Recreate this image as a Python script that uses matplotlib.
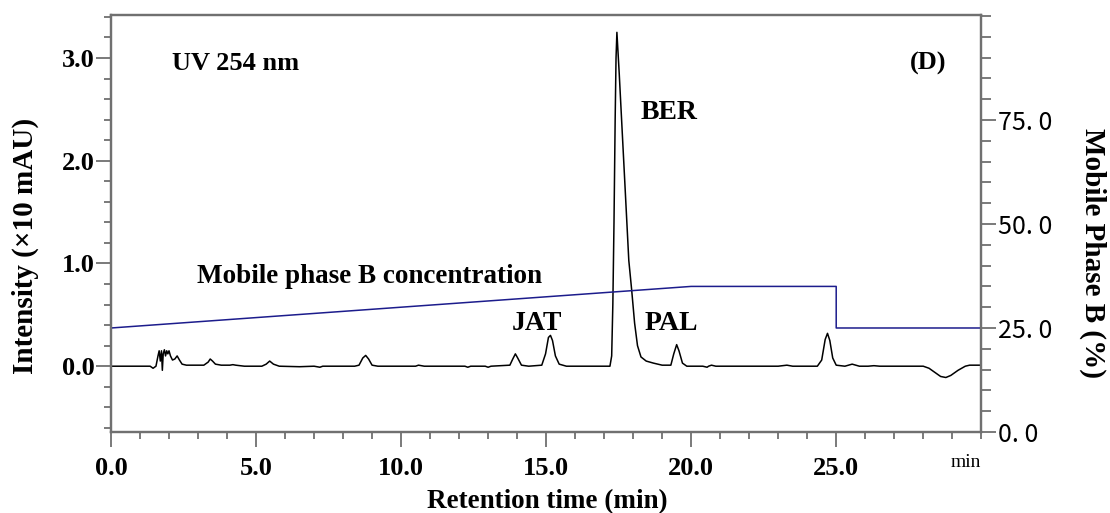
import matplotlib
matplotlib.use("Agg")
import matplotlib.pyplot as plt
from matplotlib.ticker import MultipleLocator

plt.rcParams['font.family'] = ['Liberation Serif', 'DejaVu Serif']

# chromatogram trace (min, x10 mAU)
tiempo = [0.0, 1.35, 1.45, 1.55, 1.62, 1.66, 1.70, 1.74, 1.77, 1.80, 1.84, 1.88,
          1.92, 1.96, 2.00, 2.05, 2.12, 2.20, 2.28, 2.36, 2.45, 2.6, 2.8, 3.2,
          3.35, 3.42, 3.50, 3.6, 3.8, 4.1, 4.2, 4.3, 4.6, 5.2, 5.35, 5.47, 5.6,
          5.8, 6.5, 7.0, 7.2, 7.3, 8.4, 8.55, 8.68, 8.78, 8.88, 9.0, 9.2, 10.5,
          10.6, 10.8, 12.2, 12.3, 12.4, 12.9, 13.0, 13.1, 13.75, 13.85, 13.94,
          14.02, 14.15, 14.4, 14.85, 14.98, 15.08, 15.15, 15.22, 15.32, 15.45,
          15.7, 17.2, 17.26, 17.30, 17.34, 17.38, 17.41, 17.44, 17.52, 17.62,
          17.72, 17.85, 17.95, 18.05, 18.15, 18.27, 18.45, 18.7, 19.0, 19.3,
          19.40, 19.50, 19.58, 19.70, 19.85, 20.4, 20.55, 20.6, 20.7, 20.85,
          23.0, 23.3, 23.5, 24.35, 24.5, 24.62, 24.70, 24.78, 24.88, 25.0, 25.3,
          25.55, 25.8, 26.1, 26.3, 26.5, 28.0, 28.2, 28.4, 28.6, 28.78, 28.95,
          29.2, 29.45, 29.6, 30.0]
intensidade = [0.0, 0.0, -0.02, 0.0, 0.10, 0.15, 0.05, 0.15, -0.04, 0.12, 0.16,
               0.10, 0.15, 0.12, 0.15, 0.10, 0.06, 0.07, 0.10, 0.06, 0.02, 0.01,
               0.01, 0.01, 0.04, 0.07, 0.05, 0.02, 0.01, 0.01, 0.015, 0.01, 0.0,
               0.0, 0.02, 0.05, 0.02, 0.0, -0.005, 0.0, -0.01, 0.0, 0.0, 0.01,
               0.08, 0.105, 0.07, 0.01, 0.0, 0.0, 0.01, 0.0, 0.0, -0.01, 0.0,
               0.0, -0.01, 0.0, 0.01, 0.07, 0.12, 0.08, 0.01, 0.0, 0.01, 0.12,
               0.28, 0.30, 0.25, 0.10, 0.02, 0.0, 0.0, 0.1, 0.6, 1.4, 2.4, 3.0,
               3.25, 2.85, 2.3, 1.75, 1.03, 0.74, 0.42, 0.2, 0.09, 0.05, 0.03,
               0.01, 0.01, 0.12, 0.21, 0.15, 0.03, 0.0, 0.0, -0.01, 0.0, 0.01,
               0.0, 0.0, 0.01, 0.0, 0.0, 0.06, 0.26, 0.32, 0.25, 0.08, 0.01, 0.0,
               0.02, 0.0, 0.0, 0.005, 0.0, 0.0, -0.02, -0.06, -0.10, -0.11, -0.09,
               -0.04, 0.0, 0.01, 0.01]

# mobile phase B gradient program (min, %)
grad_t = [0, 20, 25, 25, 30]
grad_b = [25, 35, 35, 25, 25]

rotulos_x = ['0.0', '5.0', '10.0', '15.0', '20.0', '25.0']
rotulos_y = ['0.0', '1.0', '2.0', '3.0']
rotulos_dir = ['0. 0', '25. 0', '50. 0', '75. 0']
ticks_dir = [0, 25, 50, 75]

cinza = '#707070'

fig = plt.figure(figsize=(11.1, 5.13), dpi=100)
ax = fig.add_axes([0.1, 0.158, 0.784, 0.813])
ax2 = ax.twinx()

ax.plot(tiempo, intensidade, color='black', lw=1.1)
ax2.plot(grad_t, grad_b, color='#1c1c8c', lw=1.1)

ax.set_xlim(0, 30)
ax.set_ylim(-0.64, 3.42)
ax2.set_ylim(0, 100.3)

ax.xaxis.set_minor_locator(MultipleLocator(1))
ax.yaxis.set_minor_locator(MultipleLocator(0.2))
ax2.yaxis.set_minor_locator(MultipleLocator(5))

ax.set_xticks([0, 5, 10, 15, 20, 25])
ax.set_xticklabels(rotulos_x, fontsize=19, fontweight='bold')
ax.set_yticks([0, 1, 2, 3])
ax.set_yticklabels(rotulos_y, fontsize=19, fontweight='bold')
ax2.set_yticks(ticks_dir)
ax2.set_yticklabels(rotulos_dir, family='Noto Sans CJK JP', fontsize=18)

for a in (ax, ax2):
    for s in a.spines.values():
        s.set_color(cinza)
        s.set_linewidth(1.6)
    a.tick_params(which='major', length=11, width=1.3, color=cinza)
    a.tick_params(which='minor', length=5, width=1.3, color=cinza)
ax2.tick_params(which='minor', length=7)
ax.tick_params(axis='x', pad=7)
ax.tick_params(axis='y', pad=1)
ax2.tick_params(axis='y', pad=1)

ax.set_xlabel('Retention time (min)', fontsize=19.5, fontweight='bold', va='center')
ax.xaxis.set_label_coords(0.501, -0.168)
ax.set_ylabel('Intensity (\u00d710 mAU)', fontsize=21, fontweight='bold', va='center')
ax.yaxis.set_label_coords(-0.099, 0.446)
ax2.set_ylabel('Mobile Phase B (%)', fontsize=21, fontweight='bold',
               rotation=270, va='center')
ax2.yaxis.set_label_coords(1.128, 0.43)

ax.text(30, -0.935, 'min', fontsize=14, ha='right', va='center')
ax.text(2.1, 2.95, 'UV 254 nm', fontsize=19, fontweight='bold', va='center')
ax.text(28.8, 2.95, '(D)', fontsize=19, fontweight='bold', va='center', ha='right')
ax.text(18.25, 2.47, 'BER', fontsize=20, fontweight='bold', va='center')
ax.text(2.96, 0.87, 'Mobile phase B concentration', fontsize=19.5,
        fontweight='bold', va='center')
ax.text(13.8, 0.42, 'JAT', fontsize=20, fontweight='bold', va='center')
ax.text(18.4, 0.42, 'PAL', fontsize=20, fontweight='bold', va='center')

fig.savefig('out.png', dpi=100)
